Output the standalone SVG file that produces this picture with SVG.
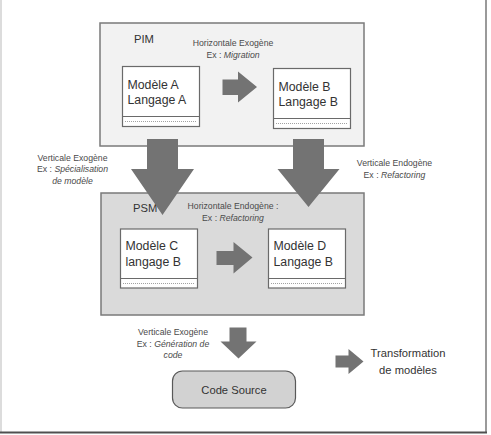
<svg xmlns="http://www.w3.org/2000/svg" width="491" height="435" viewBox="0 0 491 435">
<style>
.frame{stroke-width:2;fill:none}
.pim{fill:#f2f2f2;stroke:#7a7a7a;stroke-width:1.5}
.psm{fill:#dadada;stroke:#7a7a7a;stroke-width:1.5}
.model{fill:#ffffff;stroke:#6a6a6a;stroke-width:1.2}
.sep{stroke:#6a6a6a;stroke-width:1.2;fill:none}
.dots{stroke:#8a8a8a;stroke-width:0.8;stroke-dasharray:1 1;fill:none}
.arrow{fill:#737373}
.big{font-family:"Liberation Sans",Arial,sans-serif;font-size:12.3px;fill:#333333}
.lbl{font-family:"Liberation Sans",Arial,sans-serif;font-size:11.2px;fill:#333333}
.small{font-family:"Liberation Sans",Arial,sans-serif;font-size:8.7px;fill:#4a4a4a}
.it{font-style:italic}
.mid{text-anchor:middle}
.code{fill:#d2d2d2;stroke:#595959;stroke-width:1.2}
</style>
<rect width="491" height="435" fill="#ffffff"/>
<line x1="1" y1="0" x2="1" y2="432" stroke="#d0d0d0" stroke-width="1.5"/>
<line x1="486" y1="0" x2="486" y2="433" stroke="#9a9a9a" stroke-width="2"/>
<line x1="0" y1="432.5" x2="487" y2="432.5" stroke="#505050" stroke-width="2"/>

<g id="pim">
  <rect class="pim" x="100" y="23" width="264" height="123"/>
  <text class="lbl" x="134" y="43">PIM</text>
  <text class="small mid" x="233" y="46">Horizontale Exogène</text>
  <text class="small mid" x="233" y="58">Ex : <tspan class="it">Migration</tspan></text>
</g>
<g id="modeleA">
  <rect class="model" x="122.5" y="66.5" width="77" height="60"/>
  <line class="sep" x1="122.5" y1="116.5" x2="199.5" y2="116.5"/>
  <line class="dots" x1="125" y1="121.5" x2="197" y2="121.5"/>
  <text class="big" x="127.5" y="88.5">Modèle A</text>
  <text class="big" x="127.5" y="103.5">Langage A</text>
</g>
<g id="modeleB">
  <rect class="model" x="273.5" y="68.5" width="77" height="60"/>
  <line class="sep" x1="273.5" y1="118.5" x2="350.5" y2="118.5"/>
  <line class="dots" x1="276" y1="123.5" x2="348" y2="123.5"/>
  <text class="big" x="278.5" y="90.5">Modèle B</text>
  <text class="big" x="278.5" y="105.5">Langage B</text>
</g>

<g id="psm">
  <rect class="psm" x="101" y="193" width="263" height="122"/>
  <text class="lbl" x="133" y="212">PSM</text>
  <text class="small mid" x="233" y="209">Horizontale Endogène :</text>
  <text class="small mid" x="233" y="220.5">Ex : <tspan class="it">Refactoring</tspan></text>
</g>
<g id="modeleC">
  <rect class="model" x="120.5" y="229" width="77" height="59"/>
  <line class="sep" x1="120.5" y1="278.5" x2="197.5" y2="278.5"/>
  <line class="dots" x1="123" y1="283.5" x2="195" y2="283.5"/>
  <text class="big" x="125.5" y="250">Modèle C</text>
  <text class="big" x="125.5" y="266">langage B</text>
</g>
<g id="modeleD">
  <rect class="model" x="268.5" y="229" width="77" height="59"/>
  <line class="sep" x1="268.5" y1="278.5" x2="345.5" y2="278.5"/>
  <line class="dots" x1="271" y1="283.5" x2="343" y2="283.5"/>
  <text class="big" x="273.5" y="250">Modèle D</text>
  <text class="big" x="273.5" y="266">Langage B</text>
</g>

<g id="codeSource">
  <rect class="code" x="172.5" y="371" width="123" height="37" rx="10" ry="10"/>
  <text class="lbl mid" x="234" y="393.5">Code Source</text>
</g>

<g id="legend">
  <path class="arrow" d="M335.5,355.5 H348.5 V349 L363.5,361.5 L348.5,374 V367.5 H335.5 Z"/>
  <text class="lbl mid" x="408" y="357">Transformation</text>
  <text class="lbl mid" x="408" y="373.5">de modèles</text>
</g>

<g id="connectors">
  <path class="arrow" d="M222.5,79.5 H238 V71.5 L257,87 L238,102.5 V95 H222.5 Z"/>
  <path class="arrow" d="M216.5,251 H233.5 V242 L252.5,257.5 L233.5,273.5 V265 H216.5 Z"/>
  <path class="arrow" d="M147,139 H178 V169 H194 L162.5,215 L131,169 H147 Z"/>
  <path class="arrow" d="M293,139 H324 V169 H339.5 L308.5,207 L277.5,169 H293 Z"/>
  <path class="arrow" d="M229.5,327.5 H246.5 V341.5 H256.5 L238.5,358.5 L220.5,341.5 H229.5 Z"/>
  <text class="small mid" x="72.5" y="161">Verticale Exogène</text>
  <text class="small mid" x="72.5" y="172">Ex : <tspan class="it">Spécialisation</tspan></text>
  <text class="small mid it" x="72.5" y="183.5">de modèle</text>
  <text class="small mid" x="394.5" y="166">Verticale Endogène</text>
  <text class="small mid" x="394.5" y="177.5">Ex : <tspan class="it">Refactoring</tspan></text>
  <text class="small mid" x="173" y="335">Verticale Exogène</text>
  <text class="small mid" x="173" y="346.5">Ex : <tspan class="it">Génération de</tspan></text>
  <text class="small mid it" x="173" y="357.5">code</text>
</g>
</svg>
